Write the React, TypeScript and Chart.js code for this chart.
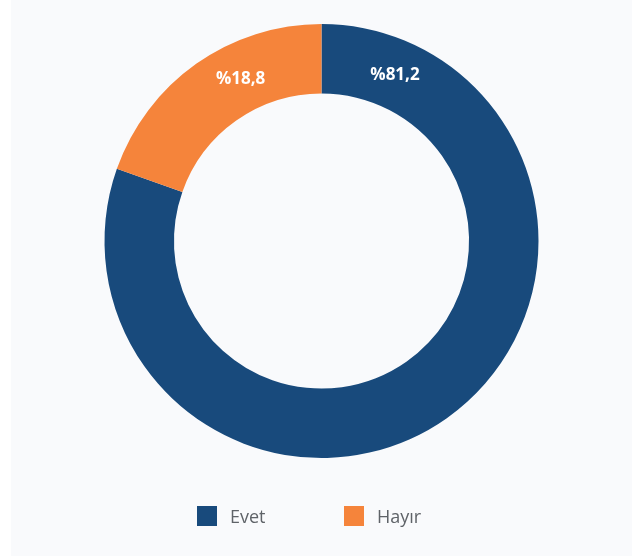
import React, { useEffect, useRef } from "react";
import { Chart, registerables } from "chart.js";

Chart.register(...registerables);

const categories = ["Evet", "Hayır"];
// arc sizes (share of the ring)
const values = [80.4, 19.6];
// percentage labels printed on the ring
const valueLabels = ["%81,2", "%18,8"];
const colors = ["#184a7c", "#f5843b"];

const FONT = "'Open Sans', 'DejaVu Sans', sans-serif";

const labelPlugin = {
  id: "topLabels",
  afterDatasetsDraw(chart: any) {
    const meta = chart.getDatasetMeta(0);
    const ctx = chart.ctx;
    ctx.save();
    ctx.fillStyle = "#ffffff";
    ctx.font = `700 17px ${FONT}`;
    ctx.textAlign = "center";
    ctx.textBaseline = "middle";
    meta.data.forEach((arc: any, i: number) => {
      const p = arc.getProps(["x", "y", "startAngle", "endAngle", "innerRadius", "outerRadius"], true);
      const top = -Math.PI / 2;
      const top2 = (3 * Math.PI) / 2;
      let a: number;
      if (Math.abs(p.startAngle - top) < 1e-3) a = p.startAngle + 0.415;
      else if (Math.abs(p.endAngle - top2) < 1e-3) a = p.endAngle - 0.46;
      else a = (p.startAngle + p.endAngle) / 2;
      const r = (p.innerRadius + p.outerRadius) / 2;
      ctx.fillText(valueLabels[i], p.x + Math.cos(a) * r, p.y + Math.sin(a) * r + 1);
    });
    ctx.restore();
  },
};

export default function App() {
  const ref = useRef<HTMLCanvasElement | null>(null);
  useEffect(() => {
    if (!ref.current) return;
    const chart = new Chart(ref.current, {
      type: "doughnut",
      data: {
        labels: categories,
        datasets: [
          {
            data: values,
            backgroundColor: colors,
            borderWidth: 0,
          },
        ],
      },
      options: {
        animation: false,
        responsive: true,
        maintainAspectRatio: false,
        cutout: "68%",
        layout: { padding: { top: 24, bottom: 98 } },
        plugins: {
          legend: { display: false },
          tooltip: { enabled: false },
        },
      },
      plugins: [labelPlugin],
    });
    return () => chart.destroy();
  }, []);

  return (
    <div
      style={{
        position: "absolute",
        left: 11,
        top: 0,
        width: 621,
        height: 556,
        background: "#f9fafc",
      }}
    >
      <div style={{ position: "absolute", left: 0, top: 0, width: 621, height: 556 }}>
        <canvas ref={ref} />
      </div>
      <div
        style={{
          position: "absolute",
          left: 186,
          top: 506,
          display: "flex",
          alignItems: "center",
          fontFamily: FONT,
          fontSize: 18,
          color: "#5f6368",
        }}
      >
        {categories.map((c, i) => (
          <div key={c} style={{ display: "flex", alignItems: "center", width: 147, height: 20 }}>
            <span style={{ display: "inline-block", width: 20, height: 20, background: colors[i], marginRight: 13 }} />
            <span style={{ lineHeight: "20px" }}>{c}</span>
          </div>
        ))}
      </div>
    </div>
  );
}
